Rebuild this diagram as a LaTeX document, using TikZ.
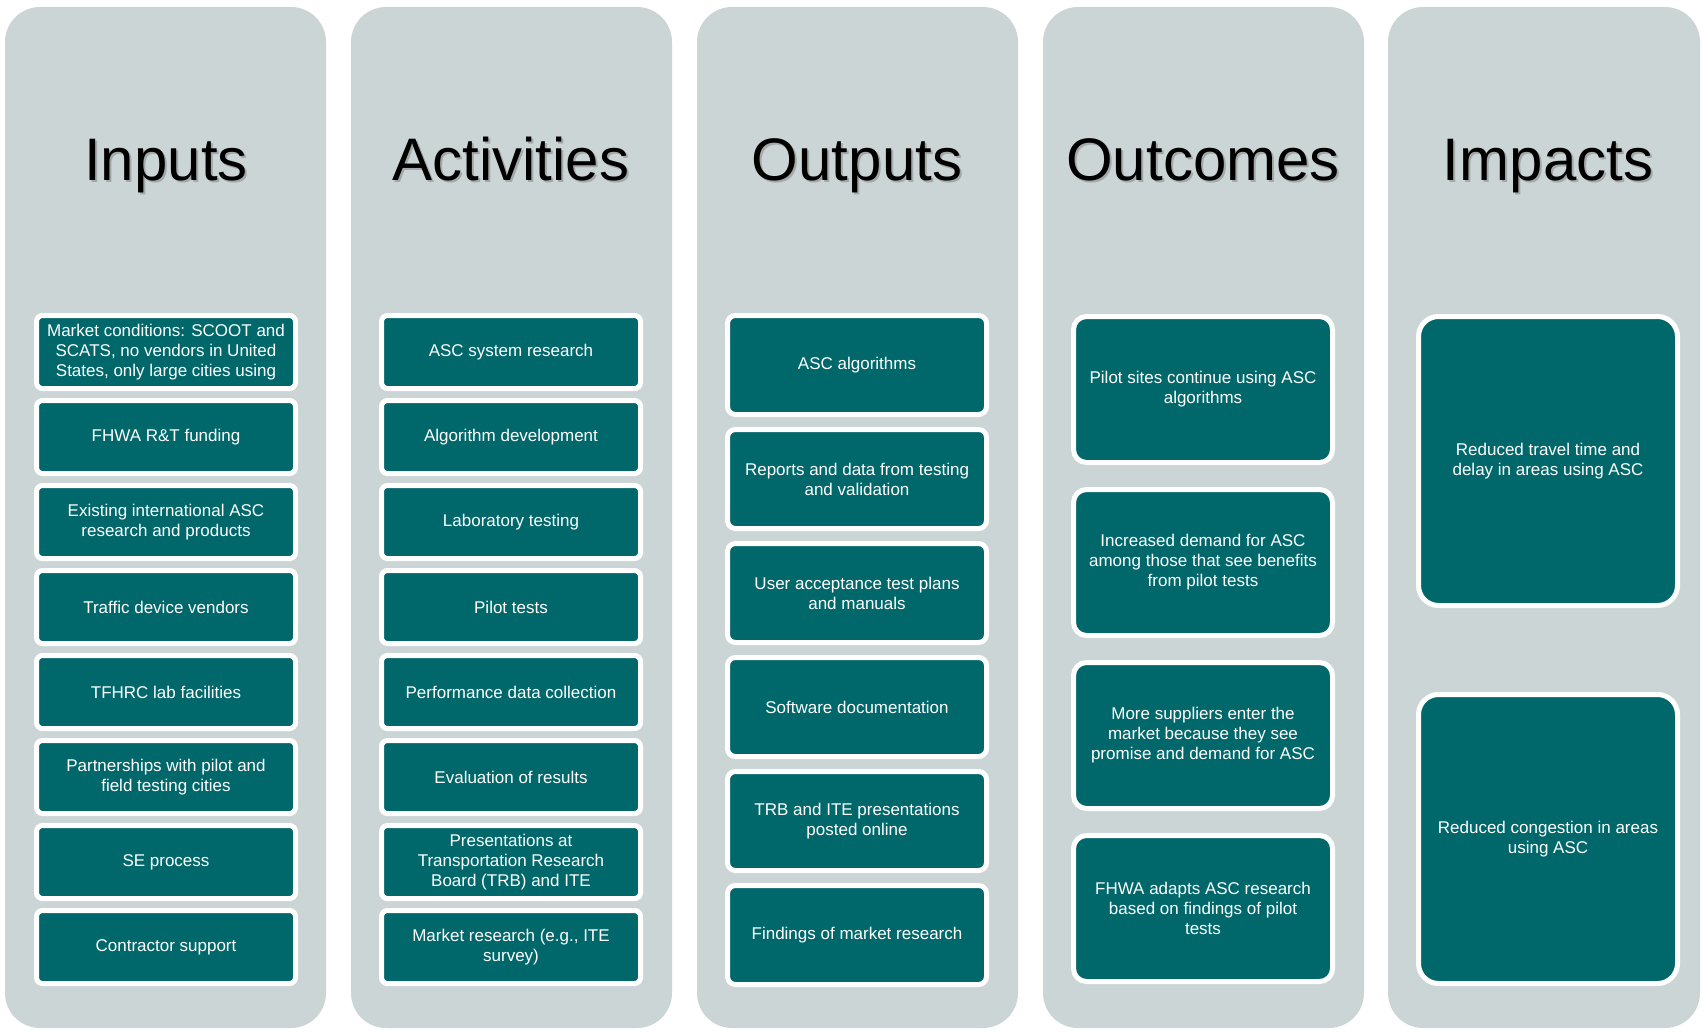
\documentclass[tikz,border=0pt]{standalone}
\usepackage{fontspec}
\setmainfont{Liberation Sans}
\usetikzlibrary{positioning}
\definecolor{colgray}{RGB}{203,213,214}
\definecolor{boxteal}{RGB}{0,104,107}
\tikzset{
        column/.style={fill=colgray, rounded corners=17.5pt},
        heading/.style={anchor=base, text=black, inner sep=0pt, font=\fontsize{30}{36}\selectfont},
        headshadow/.style={heading, text=black!55, opacity=0.45},
        item/.style={fill=boxteal, draw=white, line width=2.5pt, outer sep=1.25pt, text=white, align=center,
          minimum width=129.5pt, inner sep=2pt, font=\fontsize{8.5}{10}\selectfont},
        smallitem/.style={item, minimum height=36.5pt, rounded corners=3pt},
        miditem/.style={item, minimum height=49.5pt, rounded corners=4pt},
        tallitem/.style={item, minimum height=73pt, rounded corners=6.5pt},
        bigitem/.style={item, minimum height=144.5pt, rounded corners=10pt}
          }
\begin{document}
\begin{tikzpicture}[x=0.5pt, y=-0.5pt]
      \fill[white] (0,0) rectangle (1703,1033);
      \useasboundingbox (0,0) rectangle (1703,1033);
      \fill[column] (5,7) rectangle (326,1028);
      \fill[column] (351,7) rectangle (672,1028);
      \fill[column] (697,7) rectangle (1018,1028);
      \fill[column] (1043,7) rectangle (1364,1028);
      \fill[column] (1388,7) rectangle (1700,1028);

      \node[headshadow] (sin) at (168,182) {Inputs};
      \node[heading] (hin) at (166,180) {Inputs};
      \node[headshadow] (sact) at (513,182) {Activities};
      \node[heading] (hact) at (511,180) {Activities};
      \node[headshadow] (sout) at (859,182) {Outputs};
      \node[heading] (hout) at (857,180) {Outputs};
      \node[headshadow] (soc) at (1205,182) {Outcomes};
      \node[heading] (hoc) at (1203,180) {Outcomes};
      \node[headshadow] (simp) at (1550,182) {Impacts};
      \node[heading] (himp) at (1548,180) {Impacts};

      \node[smallitem, anchor=north] (in1) at (166,313) {Market conditions: SCOOT and\\SCATS, no vendors in United\\States, only large cities using};
      \node[smallitem, below=3.5pt of in1] (in2) {FHWA R\&T funding};
      \node[smallitem, below=3.5pt of in2] (in3) {Existing international ASC\\research and products};
      \node[smallitem, below=3.5pt of in3] (in4) {Traffic device vendors};
      \node[smallitem, below=3.5pt of in4] (in5) {TFHRC lab facilities};
      \node[smallitem, below=3.5pt of in5] (in6) {Partnerships with pilot and\\field testing cities};
      \node[smallitem, below=3.5pt of in6] (in7) {SE process};
      \node[smallitem, below=3.5pt of in7] (in8) {Contractor support};

      \node[smallitem, anchor=north] (act1) at (511,313) {ASC system research};
      \node[smallitem, below=3.5pt of act1] (act2) {Algorithm development};
      \node[smallitem, below=3.5pt of act2] (act3) {Laboratory testing};
      \node[smallitem, below=3.5pt of act3] (act4) {Pilot tests};
      \node[smallitem, below=3.5pt of act4] (act5) {Performance data collection};
      \node[smallitem, below=3.5pt of act5] (act6) {Evaluation of results};
      \node[smallitem, below=3.5pt of act6] (act7) {Presentations at\\Transportation Research\\Board (TRB) and ITE};
      \node[smallitem, below=3.5pt of act7] (act8) {Market research (e.g., ITE\\survey)};

      \node[miditem, anchor=north] (out1) at (857,313) {ASC algorithms};
      \node[miditem, below=5pt of out1] (out2) {Reports and data from testing\\and validation};
      \node[miditem, below=5pt of out2] (out3) {User acceptance test plans\\and manuals};
      \node[miditem, below=5pt of out3] (out4) {Software documentation};
      \node[miditem, below=5pt of out4] (out5) {TRB and ITE presentations\\posted online};
      \node[miditem, below=5pt of out5] (out6) {Findings of market research};

      \node[tallitem, anchor=north] (oc1) at (1203,314) {Pilot sites continue using ASC\\algorithms};
      \node[tallitem, below=11pt of oc1] (oc2) {Increased demand for ASC\\among those that see benefits\\from pilot tests};
      \node[tallitem, below=11pt of oc2] (oc3) {More suppliers enter the\\market because they see\\promise and demand for ASC};
      \node[tallitem, below=11pt of oc3] (oc4) {FHWA adapts ASC research\\based on findings of pilot\\tests};

      \node[bigitem, anchor=north] (imp1) at (1548,314) {Reduced travel time and\\delay in areas using ASC};
      \node[bigitem, below=42pt of imp1] (imp2) {Reduced congestion in areas\\using ASC};
\end{tikzpicture}
\end{document}
